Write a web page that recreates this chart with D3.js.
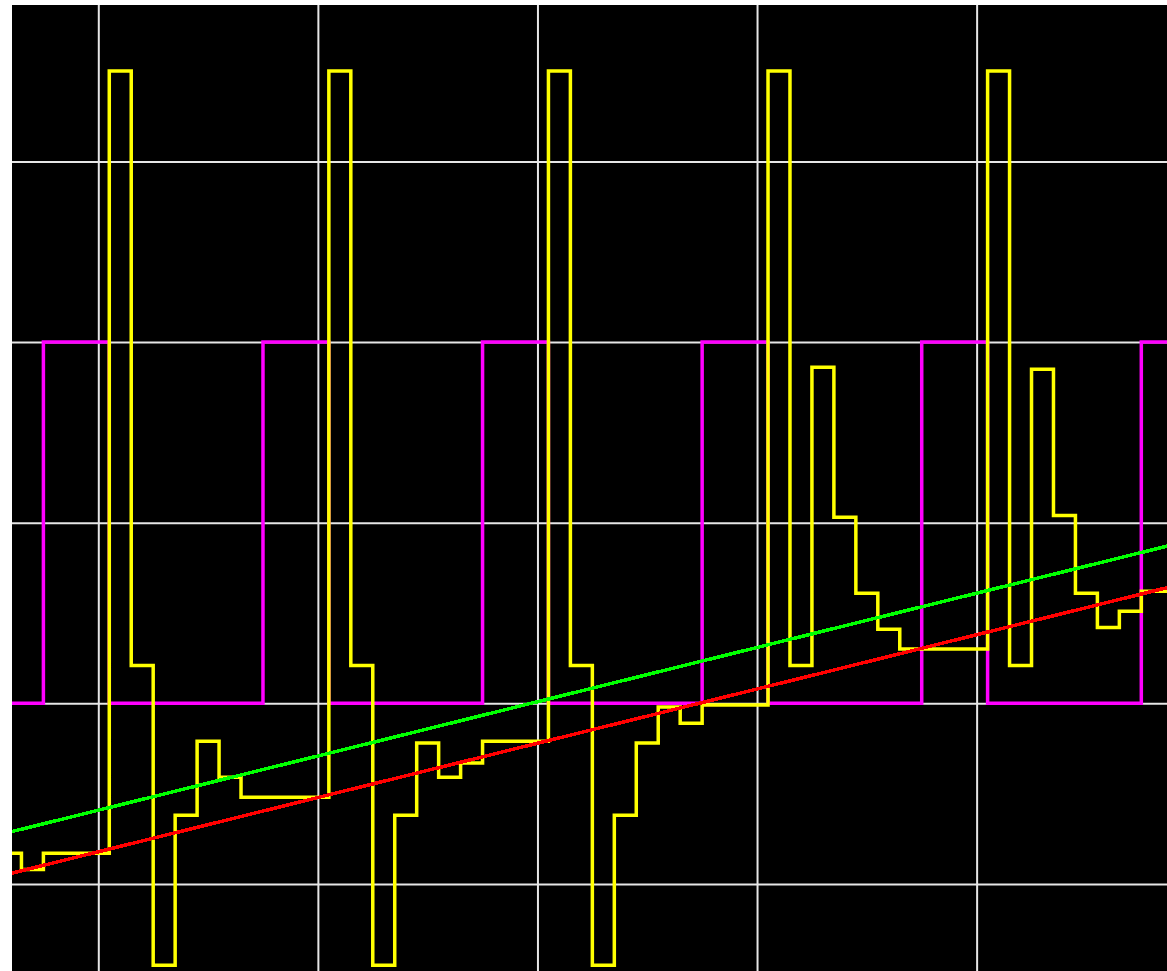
<!DOCTYPE html>
<html>
<head>
<meta charset="utf-8">
<style>
  html, body { margin: 0; padding: 0; background: #ffffff; }
  svg { display: block; }
</style>
<script src="https://cdn.jsdelivr.net/npm/d3@7"></script>
</head>
<body>
<script>
// Sample times (one sample per time unit) and the recorded signals.
const sampleTimes = d3.range(-4, 50);

// Measured process value (yellow trace), one value per sample.
const processValues = [
  -0.83, -0.92, -0.83, -0.83, -0.83,
   3.50,  0.21, -1.45, -0.62, -0.21, -0.41, -0.52, -0.52, -0.52, -0.52,
   3.50,  0.21, -1.45, -0.62, -0.22, -0.41, -0.33, -0.21, -0.21, -0.21,
   3.50,  0.21, -1.45, -0.62, -0.22, -0.02, -0.11, -0.01, -0.01, -0.01,
   3.50,  0.21,  1.86,  1.03,  0.61,  0.41,  0.30,  0.30,  0.30,  0.30,
   3.50,  0.21,  1.85,  1.04,  0.61,  0.42,  0.51,  0.62,  0.62
];

// Gate signal (magenta trace): 0 = off, 2 = on.
const gateValues = [
  0, 0, 2, 2, 2,
  0, 0, 0, 0, 0, 0, 0, 2, 2, 2,
  0, 0, 0, 0, 0, 0, 0, 2, 2, 2,
  0, 0, 0, 0, 0, 0, 0, 2, 2, 2,
  0, 0, 0, 0, 0, 0, 0, 2, 2, 2,
  0, 0, 0, 0, 0, 0, 0, 2, 2
];

// Upper and lower drift limits (straight lines across the window).
const limitTimes = [-3.93, 48.67];
const upperLimitValues = [-0.71, 0.87];
const lowerLimitValues = [-0.94, 0.64];

// Grid positions.
const timeGridTicks = [0, 10, 20, 30, 40];
const valueGridTicks = [-1, 0, 1, 2, 3];

// Visible window.
const timeDomain = [-3.93, 48.67];
const valueDomain = [-1.482, 3.866];

const width = 1167, height = 971;
const plot = { left: 12, top: 5, right: 1167, bottom: 971 };

const svg = d3.select("body").append("svg")
  .attr("width", width)
  .attr("height", height);

const x = d3.scaleLinear().domain(timeDomain).range([plot.left, plot.right]);
const y = d3.scaleLinear().domain(valueDomain).range([plot.bottom, plot.top]);

svg.append("defs").append("clipPath").attr("id", "plot-clip")
  .append("rect")
  .attr("x", plot.left).attr("y", plot.top)
  .attr("width", plot.right - plot.left).attr("height", plot.bottom - plot.top);

// Black screen background.
svg.append("rect")
  .attr("x", plot.left).attr("y", plot.top)
  .attr("width", plot.right - plot.left).attr("height", plot.bottom - plot.top)
  .attr("fill", "#000000");

const g = svg.append("g").attr("clip-path", "url(#plot-clip)");

// Grid built from axis generators with full-length ticks.
const gridColor = "#e6e6e6";
const xGrid = g.append("g")
  .attr("transform", `translate(0,${plot.bottom})`)
  .call(d3.axisBottom(x).tickValues(timeGridTicks)
    .tickSize(-(plot.bottom - plot.top)).tickFormat(""));
const yGrid = g.append("g")
  .attr("transform", `translate(${plot.left},0)`)
  .call(d3.axisLeft(y).tickValues(valueGridTicks)
    .tickSize(-(plot.right - plot.left)).tickFormat(""));
[xGrid, yGrid].forEach(ax => {
  ax.select(".domain").remove();
  ax.selectAll(".tick line")
    .attr("stroke", gridColor)
    .attr("stroke-width", 2);
});

const stepLine = d3.line()
  .x(d => x(d[0]))
  .y(d => y(d[1]))
  .curve(d3.curveStep);

const straightLine = d3.line()
  .x(d => x(d[0]))
  .y(d => y(d[1]));

// Gate signal.
g.append("path")
  .datum(d3.zip(sampleTimes, gateValues))
  .attr("d", stepLine)
  .attr("fill", "none")
  .attr("stroke", "#ff00ff")
  .attr("stroke-width", 3.5);

// Process value.
g.append("path")
  .datum(d3.zip(sampleTimes, processValues))
  .attr("d", stepLine)
  .attr("fill", "none")
  .attr("stroke", "#ffff00")
  .attr("stroke-width", 3.5)
  .attr("stroke-linejoin", "miter");

// Upper limit.
g.append("path")
  .datum(d3.zip(limitTimes, upperLimitValues))
  .attr("d", straightLine)
  .attr("fill", "none")
  .attr("stroke", "#00ff00")
  .attr("stroke-width", 3.5)
  .attr("shape-rendering", "crispEdges");

// Lower limit.
g.append("path")
  .datum(d3.zip(limitTimes, lowerLimitValues))
  .attr("d", straightLine)
  .attr("fill", "none")
  .attr("stroke", "#ff0000")
  .attr("stroke-width", 3.5)
  .attr("shape-rendering", "crispEdges");
</script>
</body>
</html>
